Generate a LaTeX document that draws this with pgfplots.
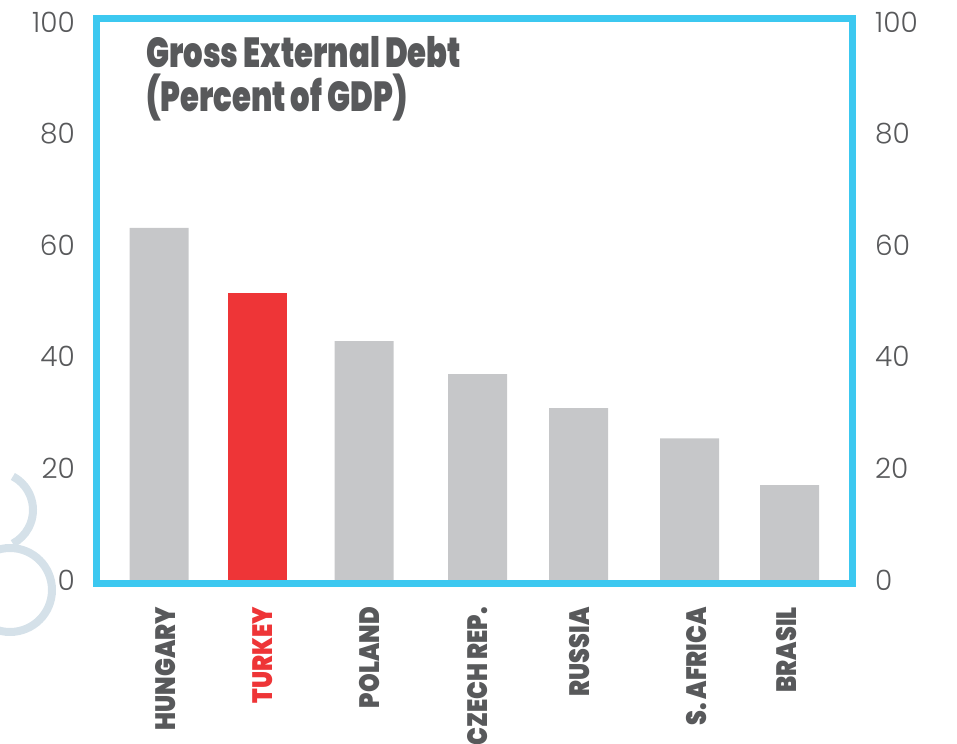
\documentclass[border=0pt]{standalone}
\usepackage{fontspec}
\usepackage{pgfplots}
\pgfplotsset{compat=1.18}
\newfontfamily\tickfont{Poppins Light}
\newfontfamily\heavyfont{Poppins Black}
\definecolor{axblue}{HTML}{3CC8F0}
\definecolor{bargray}{HTML}{C6C7C9}
\definecolor{turkeyred}{HTML}{EE3537}
\definecolor{txtgray}{HTML}{58595B}
\definecolor{swirl}{HTML}{D5E1E9}
\newcommand\lab[1]{\scalebox{0.85}[1]{\heavyfont\fontsize{28bp}{28bp}\selectfont #1}}
\newcommand\ttl[1]{\scalebox{0.73}[1]{\heavyfont\fontsize{42bp}{42bp}\selectfont #1}}
\begin{document}
\begin{tikzpicture}
\pgfplotsset{
  common/.style={
    scale only axis, width=755.5bp, height=564.5bp,
    xmin=96.5, xmax=852, ymin=-0.54, ymax=100.6,
    axis line style={draw=none},
    major tick length=0pt,
    ytick={0,20,40,60,80,100},
    /pgf/number format/assume math mode=true,
    yticklabel style={font=\tickfont\fontsize{28bp}{28bp}\selectfont, text=txtgray, inner sep=0pt},
    clip=false,
  }
}
\begin{axis}[common,
  yticklabel pos=left,
  yticklabel shift=21.5bp,
  xtick={166,263,370,478,579.5,697,786.5},
  xticklabels={\lab{HUNGARY},{\color{turkeyred}\lab{TURKEY}},\lab{POLAND},\lab{CZECH REP.},\lab{RUSSIA},\lab{S. AFRICA},\lab{BRASIL}},
  xticklabel style={rotate=90, anchor=east, inner sep=0pt, text=txtgray},
  xticklabel shift=24bp,
]
\addplot[ybar, bar width=59, bar shift=0pt, fill=bargray, draw=none]
  coordinates {(159,63.1) (364,42.8) (477.5,36.9) (578.5,30.8) (689.5,25.4) (789.5,17.0)};
\addplot[ybar, bar width=59, bar shift=0pt, fill=turkeyred, draw=none]
  coordinates {(257.5,51.4)};
\draw[axblue, line width=7bp] (rel axis cs:0,0) rectangle (rel axis cs:1,1);
\node[anchor=base west, inner sep=0pt, text=txtgray] at (axis cs:146,91.9) {\ttl{Gross External Debt}};
\node[anchor=base west, inner sep=0pt, text=txtgray] at (axis cs:146,84.0) {\ttl{(Percent of GDP)}};
\coordinate (BL) at (axis cs:0,-29.38);
\coordinate (TR) at (axis cs:957,103.92);
\coordinate (TL) at (axis cs:0,103.92);
\end{axis}
\begin{axis}[common,
  yticklabel pos=right,
  yticklabel shift=23bp,
  xtick=\empty,
]
\end{axis}
\begin{scope}[shift={(TL)}, x=1bp, y=-1bp, swirl, line width=8bp]
\draw (10,590) circle[radius=42];
\draw (-5,510) ++(-62:38) arc[start angle=-62, end angle=62, radius=38];
\end{scope}
\pgfresetboundingbox
\path (BL) rectangle (TR);
\end{tikzpicture}
\end{document}
